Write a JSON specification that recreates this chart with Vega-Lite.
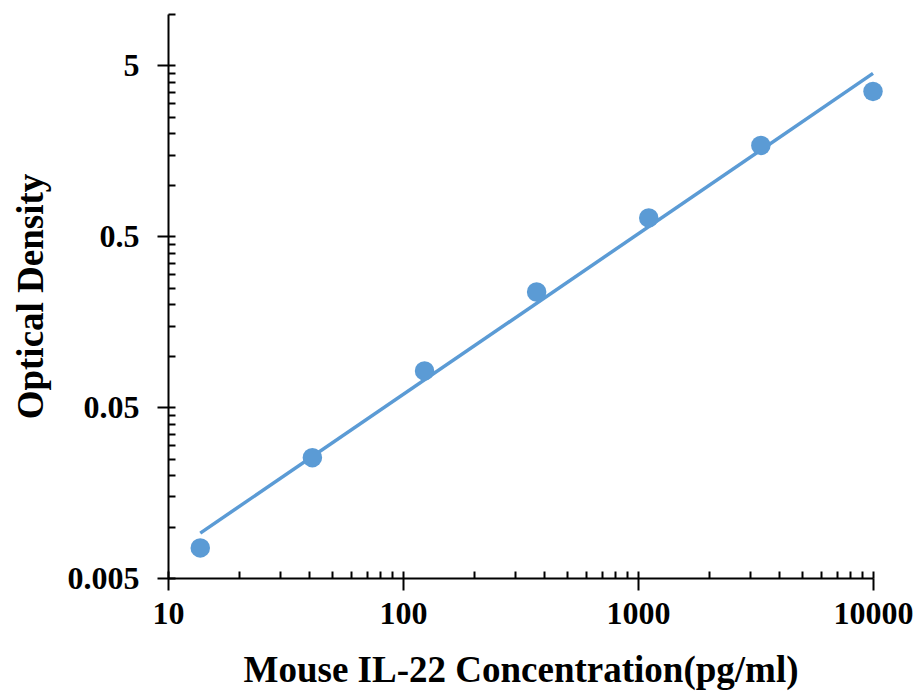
{
  "$schema": "https://vega.github.io/schema/vega-lite/v6.json",
  "width": 705,
  "height": 564,
  "autosize": {"type": "none"},
  "padding": {"left": 168, "top": 14, "right": 47, "bottom": 114},
  "background": "white",
  "config": {
    "view": {"stroke": null},
    "font": "Liberation Serif"
  },
  "datasets": {
    "points": [
      {"conc": 13.72, "od": 0.0075},
      {"conc": 41.15, "od": 0.0253},
      {"conc": 123.5, "od": 0.0815},
      {"conc": 370.4, "od": 0.236},
      {"conc": 1111, "od": 0.64},
      {"conc": 3333, "od": 1.70},
      {"conc": 10000, "od": 3.52}
    ],
    "fit": [
      {"conc": 13.72, "od": 0.00916},
      {"conc": 10000, "od": 4.49}
    ]
  },
  "resolve": {"axis": {"x": "independent", "y": "independent"}},
  "layer": [
    {
      "data": {"name": "fit"},
      "mark": {"type": "line", "color": "#5B9BD5", "strokeWidth": 3.5},
      "encoding": {
        "x": {
          "field": "conc", "type": "quantitative",
          "scale": {"type": "log", "domain": [10, 10000], "nice": false},
          "axis": {
            "orient": "bottom",
            "values": [10, 100, 1000, 10000],
            "format": "~g",
            "title": "Mouse IL-22 Concentration(pg/ml)",
            "titleFont": "Liberation Serif", "titleFontSize": 37, "titleFontWeight": "bold", "titleColor": "black",
            "titlePadding": 23,
            "labelFont": "Liberation Serif", "labelFontSize": 32, "labelFontWeight": "bold", "labelColor": "black",
            "labelPadding": 8,
            "labelFlush": false,
            "domainColor": "black", "domainWidth": 2,
            "tickColor": "black", "tickWidth": 2, "tickSize": 12,
            "grid": false
          }
        },
        "y": {
          "field": "od", "type": "quantitative",
          "scale": {"type": "log", "domain": [0.005, 10], "nice": false},
          "axis": {
            "orient": "left",
            "values": [0.005, 0.05, 0.5, 5],
            "format": "~g",
            "title": "Optical Density",
            "titleFont": "Liberation Serif", "titleFontSize": 37, "titleFontWeight": "bold", "titleColor": "black",
            "titlePadding": 17,
            "labelFont": "Liberation Serif", "labelFontSize": 32, "labelFontWeight": "bold", "labelColor": "black",
            "labelPadding": 18,
            "labelFlush": false,
            "domainColor": "black", "domainWidth": 2,
            "tickColor": "black", "tickWidth": 2, "tickSize": 11,
            "grid": false
          }
        }
      }
    },
    {
      "data": {"name": "points"},
      "mark": {"type": "point", "filled": true, "shape": "circle", "size": 380, "color": "#5B9BD5", "opacity": 1},
      "encoding": {
        "x": {
          "field": "conc", "type": "quantitative",
          "scale": {"type": "log", "domain": [10, 10000], "nice": false},
          "axis": {
            "orient": "bottom",
            "values": [10, 20, 30, 40, 50, 60, 70, 80, 90, 100, 200, 300, 400, 500, 600, 700, 800, 900, 1000, 2000, 3000, 4000, 5000, 6000, 7000, 8000, 9000, 10000],
            "labels": false, "domain": false, "title": null, "grid": false,
            "tickColor": "black", "tickWidth": 2, "tickSize": -7
          }
        },
        "y": {
          "field": "od", "type": "quantitative",
          "scale": {"type": "log", "domain": [0.005, 10], "nice": false},
          "axis": {
            "orient": "left",
            "values": [0.005, 0.01, 0.015, 0.02, 0.025, 0.03, 0.035, 0.04, 0.045, 0.05, 0.1, 0.15, 0.2, 0.25, 0.3, 0.35, 0.4, 0.45, 0.5, 1, 1.5, 2, 2.5, 3, 3.5, 4, 4.5, 5, 10],
            "labels": false, "domain": false, "title": null, "grid": false,
            "tickColor": "black", "tickWidth": 2, "tickSize": -7
          }
        }
      }
    }
  ]
}
